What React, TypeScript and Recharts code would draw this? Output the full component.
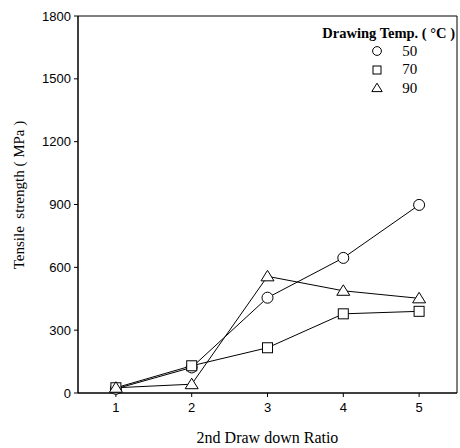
import React from "react";
import { LineChart, Line, XAxis, YAxis, ReferenceArea } from "recharts";

const ratios = [1, 2, 3, 4, 5];
const temp50 = [20, 122, 455, 645, 898];
const temp70 = [25, 130, 216, 378, 390];
const temp90 = [25, 42, 557, 488, 452];
const yTicks = [0, 300, 600, 900, 1200, 1500, 1800];
const seriesNames = ["50", "70", "90"];
const shapes = ["circle", "square", "triangle"];

const data = ratios.map((r, i) => ({ r, t50: temp50[i], t70: temp70[i], t90: temp90[i] }));

const serif = "'Liberation Serif', 'Times New Roman', serif";
const sans = "'Liberation Sans', Arial, sans-serif";

const Marker = ({ cx, cy, shape, size = 1 }: any) => {
  if (cx == null || cy == null) return null;
  const s = size;
  if (shape === "circle")
    return <circle cx={cx} cy={cy} r={5.5 * s} fill="#fff" stroke="#000" strokeWidth={1} />;
  if (shape === "square")
    return <rect x={cx - 5 * s} y={cy - 5 * s} width={10 * s} height={10 * s} fill="#fff" stroke="#000" strokeWidth={1} />;
  const h = 6 * s;
  return (
    <polygon
      points={`${cx},${cy - h} ${cx - 6.5 * s},${cy + h * 0.75} ${cx + 6.5 * s},${cy + h * 0.75}`}
      fill="#fff"
      stroke="#000"
      strokeWidth={1}
    />
  );
};

const LegendBox = () => (
  <div
    style={{
      position: "absolute",
      right: 5,
      top: 24,
      fontFamily: serif,
      color: "#000",
    }}
  >
    <div style={{ fontWeight: "bold", fontSize: 14.5, textAlign: "right", lineHeight: "18px", whiteSpace: "nowrap" }}>
      Drawing Temp. ( °C )
    </div>
    {seriesNames.map((n, i) => (
      <div key={n} style={{ display: "flex", alignItems: "center", height: 18.5, marginLeft: 49 }}>
        <svg width={12} height={12}>
          <Marker cx={6} cy={6} shape={shapes[i]} size={0.8} />
        </svg>
        <span style={{ marginLeft: 19, fontSize: 15 }}>{n}</span>
      </div>
    ))}
  </div>
);

const YLabel = () => (
  <text
    x={0}
    y={0}
    transform="translate(24,195) rotate(-90)"
    textAnchor="middle"
    fill="#000"
    fontSize={15}
    fontFamily={serif}
  >
    {"Tensile\u00A0\u00A0strength ( MPa )"}
  </text>
);

export default function App() {
  return (
    <div style={{ position: "absolute", left: 0, top: 0, width: 460, height: 448, background: "#fff" }}>
      <LineChart width={460} height={448} data={data} margin={{ top: 16, right: 3, bottom: 0, left: 0 }}>
        <XAxis
          dataKey="r"
          type="number"
          domain={[0.5, 5.5]}
          ticks={ratios}
          height={55}
          tickSize={4}
          stroke="#000"
          tick={{ fill: "#000", fontSize: 13, fontFamily: sans }}
          tickMargin={6}
          label={{
            value: "2nd Draw down Ratio",
            position: "insideBottom",
            offset: 5,
            fill: "#000",
            fontSize: 16,
            fontFamily: serif,
          }}
        />
        <YAxis
          type="number"
          domain={[0, 1800]}
          ticks={yTicks}
          width={78}
          tickSize={4}
          stroke="#000"
          tick={{ fill: "#000", fontSize: 13, fontFamily: sans }}
          tickMargin={3}
          label={<YLabel />}
        />
        <ReferenceArea x1={0.5} x2={5.5} y1={0} y2={1800} fill="none" stroke="#000" strokeWidth={1} ifOverflow="visible" />
        <Line
          dataKey="t50"
          stroke="#000"
          strokeWidth={1}
          isAnimationActive={false}
          dot={(p: any) => <Marker key={`c${p.index}`} cx={p.cx} cy={p.cy} shape="circle" />}
        />
        <Line
          dataKey="t70"
          stroke="#000"
          strokeWidth={1}
          isAnimationActive={false}
          dot={(p: any) => <Marker key={`s${p.index}`} cx={p.cx} cy={p.cy} shape="square" />}
        />
        <Line
          dataKey="t90"
          stroke="#000"
          strokeWidth={1}
          isAnimationActive={false}
          dot={(p: any) => <Marker key={`t${p.index}`} cx={p.cx} cy={p.cy} shape="triangle" />}
        />
      </LineChart>
      <LegendBox />
    </div>
  );
}
